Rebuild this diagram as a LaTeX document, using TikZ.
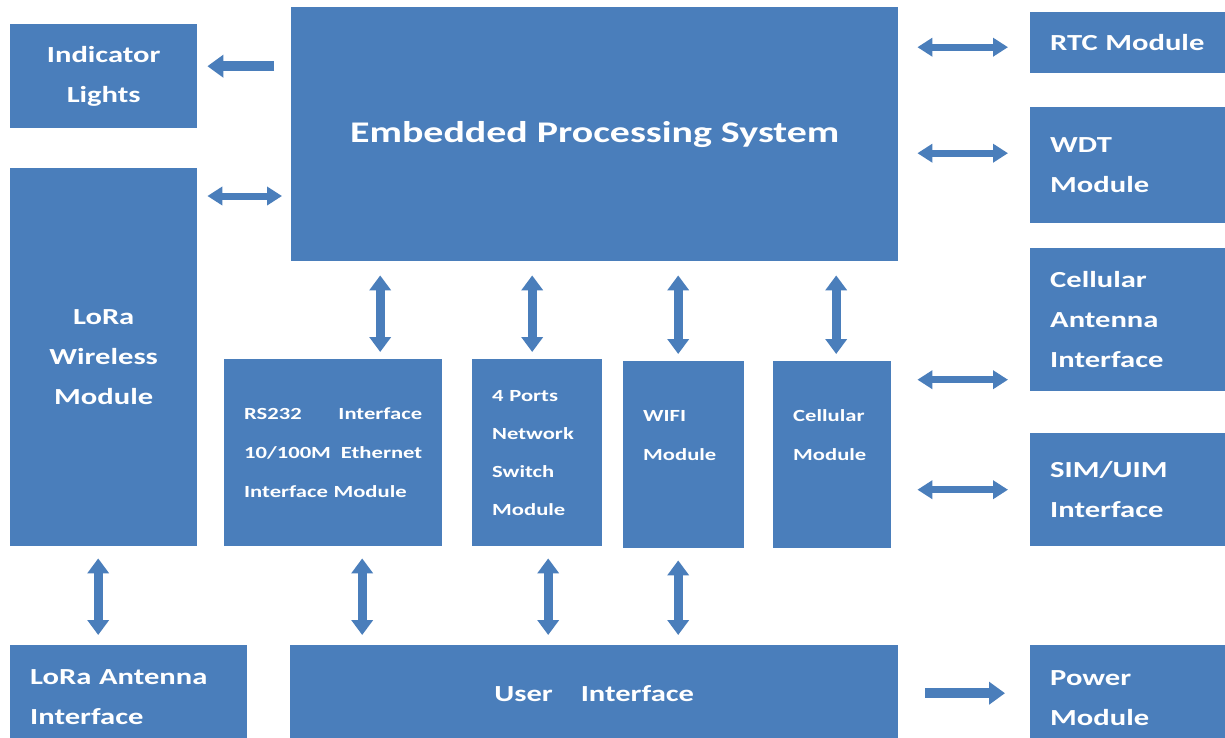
\documentclass[tikz,border=0pt]{standalone}
\usepackage{fontspec}
\setmainfont{Carlito}[FakeStretch=1.33]
\usetikzlibrary{arrows.meta}
\definecolor{boxblue}{HTML}{4A7EBB}
\tikzset{
  blk/.style={fill=boxblue,text=white,anchor=north west,inner xsep=20pt,inner ysep=0pt,
    font=\bfseries\fontsize{23}{40}\selectfont},
  sml/.style={font=\bfseries\fontsize{17}{39}\selectfont},
  biarr/.style={draw=boxblue,line width=7pt,{Triangle[length=15pt,width=18pt]}-{Triangle[length=15pt,width=18pt]}},
  varr/.style={draw=boxblue,line width=9pt,{Triangle[length=15pt,width=21pt]}-{Triangle[length=15pt,width=21pt]}},
  oarr/.style={draw=boxblue,line width=10pt,-{Triangle[length=16pt,width=22pt]}},
}
\begin{document}
\begin{tikzpicture}[x=1pt,y=-1pt]
\fill[white](0,0)rectangle(1225,737);
\useasboundingbox(0,0)rectangle(1225,737);
% left column
\node[blk,minimum width=187pt,minimum height=104pt,align=center](ind)at(10,24){Indicator\\Lights};
\node[blk,minimum width=187pt,minimum height=378pt,align=center](lora)at(10,168){LoRa\\Wireless\\Module};
\node[blk,minimum width=237pt,minimum height=104pt,text width=197pt,align=left](loraant)at(10,645){LoRa Antenna\\Interface};
% middle
\node[blk,minimum width=607pt,minimum height=254pt,font=\bfseries\fontsize{30}{36}\selectfont](emb)at(291,7){Embedded Processing System};
\node[blk,sml,minimum width=218pt,minimum height=187pt,text width=178pt,align=left](rs)at(224,359){RS232\hfill Interface\\10/100M\hfill Ethernet\\Interface Module};
\node[blk,sml,minimum width=130pt,minimum height=187pt,text width=90pt,align=left,font=\bfseries\fontsize{17}{38}\selectfont](sw)at(472,359){4 Ports\\Network\\Switch\\Module};
\node[blk,sml,minimum width=121pt,minimum height=187pt,text width=81pt,align=left](wifi)at(623,361){WIFI\\Module\\\mbox{}};
\node[blk,sml,minimum width=118pt,minimum height=187pt,text width=78pt,align=left](cell)at(773,361){Cellular\\Module\\\mbox{}};
\node[blk,minimum width=608pt,minimum height=96pt](ui)at(290,645){User\hspace*{28pt}Interface};
% right column
\node[blk,minimum width=195pt,minimum height=61pt,text width=155pt,align=left](rtc)at(1030,12){RTC Module};
\node[blk,minimum width=195pt,minimum height=116pt,text width=155pt,align=left](wdt)at(1030,107){WDT\\Module};
\node[blk,minimum width=195pt,minimum height=143pt,text width=155pt,align=left](cellant)at(1030,248){Cellular\\Antenna\\Interface};
\node[blk,minimum width=195pt,minimum height=113pt,text width=155pt,align=left](sim)at(1030,433){SIM/UIM\\Interface};
\node[blk,minimum width=195pt,minimum height=106pt,text width=155pt,align=left](power)at(1030,645){Power\\Module};
% horizontal arrows
\coordinate(indarr)at([yshift=10pt]ind.east);
\draw[oarr,shorten <=17pt,shorten >=10pt](indarr -| emb.west)--(indarr);
\coordinate(loraarr)at([yshift=-28pt]lora.north east);
\draw[biarr,shorten <=10pt,shorten >=9pt](loraarr)--(loraarr -| emb.west);
\foreach \n/\dy/\src/\sh in {rtc/-4.5/emb/19,wdt/12/emb/19,cellant/-60/cell/26,sim/0/cell/26}{
  \coordinate(t)at([yshift=\dy pt]\n.west);
  \draw[biarr,shorten <=\sh pt,shorten >=22pt](t -| \src.east)--(t);
}
\draw[oarr,shorten <=27pt,shorten >=25pt](ui.east)--(ui.east -| power.west);
% vertical arrows
\foreach \n/\dx in {rs/47,sw/-5,wifi/-5.5,cell/4}{
  \coordinate(t)at([xshift=\dx pt]\n.north);
  \draw[varr,shorten <=14pt,shorten >=7pt](t |- emb.south)--(t);
}
\foreach \n/\dx/\dst in {lora/-5.5/loraant,rs/29/ui,sw/11/ui,wifi/-5.5/ui}{
  \coordinate(t)at([xshift=\dx pt]\n.south);
  \draw[varr,shorten <=12pt,shorten >=10pt](t)--(t |- \dst.north);
}
\end{tikzpicture}
\end{document}
